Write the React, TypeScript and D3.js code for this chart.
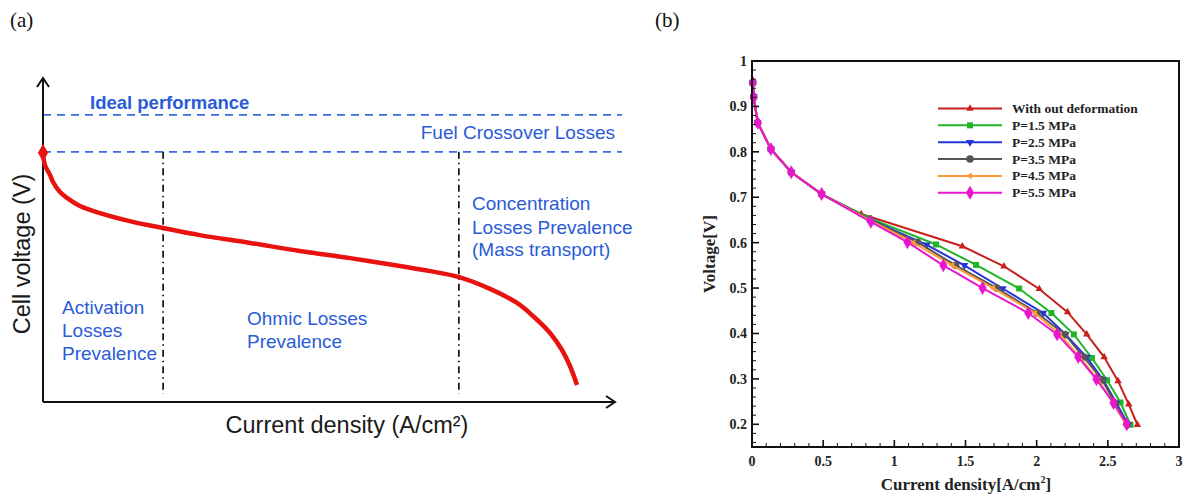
import * as d3 from "d3";

// ---------- panel (a): schematic polarization curve (arbitrary units 0..100) ----------
const schemCurrent = [0, 0.35, 1.22, 1.75, 2.97, 4.2, 6.47, 9.97, 15.7, 21.0, 27.4, 36.2, 44.9, 53.7, 62.4, 67.7, 72.6, 78.15, 82.87, 85.66, 88.64, 90.73, 92.13, 93.36];
const schemVoltage = [76.9, 73.1, 70.1, 67.9, 64.8, 63.0, 60.5, 58.3, 55.6, 53.7, 51.5, 49.1, 46.6, 44.4, 42.0, 40.4, 38.6, 34.9, 30.56, 26.54, 21.3, 16.05, 11.11, 5.25];
const idealLevel = 88.6;
const crossoverLevel = 77.2;
const regionBounds = [21.0, 72.7];
const levelEnd = 101.2;

// ---------- panel (b): measured polarization curves ----------
const sharedCurrent = [0.005, 0.012, 0.04, 0.133, 0.276, 0.489];
const sharedVoltage = [0.952, 0.921, 0.864, 0.806, 0.755, 0.707];

const seriesNames = ["With out deformation", "P=1.5 MPa", "P=2.5 MPa", "P=3.5 MPa", "P=4.5 MPa", "P=5.5 MPa"];
const seriesColors = ["#c8201c", "#1fb526", "#2435d8", "#565656", "#ff9a3a", "#ea16cf"];

const currentNoDeform = [0.767, 1.478, 1.77, 2.018, 2.217, 2.352, 2.474, 2.572, 2.647, 2.708];
const voltageNoDeform = [0.663, 0.592, 0.548, 0.498, 0.447, 0.398, 0.348, 0.295, 0.244, 0.199];
const currentP15 = [0.823, 1.293, 1.574, 1.877, 2.104, 2.261, 2.388, 2.495, 2.589, 2.659];
const voltageP15 = [0.654, 0.596, 0.551, 0.499, 0.445, 0.398, 0.346, 0.297, 0.248, 0.199];
const currentP25 = [0.82, 1.228, 1.492, 1.761, 2.046, 2.203, 2.35, 2.467, 2.56, 2.642];
const voltageP25 = [0.652, 0.595, 0.55, 0.499, 0.445, 0.398, 0.348, 0.298, 0.247, 0.2];
const currentP35 = [0.83, 1.162, 1.431, 1.719, 2.003, 2.198, 2.331, 2.46, 2.549, 2.635];
const voltageP35 = [0.65, 0.601, 0.55, 0.5, 0.445, 0.398, 0.348, 0.298, 0.247, 0.2];
const currentP45 = [0.83, 1.134, 1.407, 1.695, 1.988, 2.163, 2.303, 2.432, 2.537, 2.626];
const voltageP45 = [0.649, 0.6, 0.55, 0.5, 0.445, 0.398, 0.348, 0.298, 0.247, 0.2];
const currentP55 = [0.835, 1.092, 1.344, 1.62, 1.941, 2.144, 2.292, 2.42, 2.54, 2.633];
const voltageP55 = [0.646, 0.601, 0.55, 0.5, 0.445, 0.398, 0.348, 0.299, 0.247, 0.2];

const seriesCurrent = [currentNoDeform, currentP15, currentP25, currentP35, currentP45, currentP55];
const seriesVoltage = [voltageNoDeform, voltageP15, voltageP25, voltageP35, voltageP45, voltageP55];

const xTickLabels = ["0", "0.5", "1", "1.5", "2", "2.5", "3"];
const yTickLabels = ["0.2", "0.3", "0.4", "0.5", "0.6", "0.7", "0.8", "0.9", "1"];

const BLUE_TEXT = "#2a5bd7";
const BLUE_DASH = "#3a6be0";
const SANS = "'Liberation Sans', Arial, sans-serif";
const SERIF = "'Liberation Serif', 'Times New Roman', serif";

const symbolFor = [
  { type: d3.symbolTriangle, size: 24, rotate: 0 },
  { type: d3.symbolSquare, size: 36, rotate: 0 },
  { type: d3.symbolTriangle, size: 28, rotate: 180 },
  { type: d3.symbolCircle, size: 44, rotate: 0 },
  { type: d3.symbolTriangle, size: 20, rotate: -90 },
  { type: d3.symbolDiamond, size: 56, rotate: 0 },
];

function PanelA() {
  const x = d3.scaleLinear().domain([0, 100]).range([43, 615]);
  const y = d3.scaleLinear().domain([0, 100]).range([402, 78]);
  const pts = schemCurrent.map((c, i) => [c, schemVoltage[i]] as [number, number]);
  const line = d3
    .line<[number, number]>()
    .x((d) => x(d[0]))
    .y((d) => y(d[1]))
    .curve(d3.curveCatmullRom.alpha(0.5));

  const blueText = { fill: BLUE_TEXT, fontFamily: SANS, fontSize: 19 };

  return (
    <g>
      <text x={10} y={27} fontFamily={SERIF} fontSize={21} fill="#111">(a)</text>

      {/* level lines */}
      {[idealLevel, crossoverLevel].map((lv) => (
        <line key={lv} x1={x(0)} x2={x(levelEnd)} y1={y(lv)} y2={y(lv)}
          stroke={BLUE_DASH} strokeWidth={1.8} strokeDasharray="8,6" />
      ))}

      {/* region boundaries */}
      {regionBounds.map((b) => (
        <line key={b} x1={x(b)} x2={x(b)} y1={y(crossoverLevel)} y2={y(2.5)}
          stroke="#111" strokeWidth={1.7} strokeDasharray="7,4,1.5,4" />
      ))}

      {/* axes with open arrow heads */}
      <line x1={x(0)} x2={x(0)} y1={y(0)} y2={y(100)} stroke="#111" strokeWidth={2} />
      <line x1={x(0)} x2={x(100)} y1={y(0)} y2={y(0)} stroke="#111" strokeWidth={2} />
      <path d={`M${x(0) - 6},${y(100) + 9} L${x(0)},${y(100)} L${x(0) + 6},${y(100) + 9}`}
        fill="none" stroke="#111" strokeWidth={2} />
      <path d={`M${x(100) - 9},${y(0) - 6} L${x(100)},${y(0)} L${x(100) - 9},${y(0) + 6}`}
        fill="none" stroke="#111" strokeWidth={2} />

      {/* polarization curve */}
      <path d={line(pts) ?? ""} fill="none" stroke="#e8120e" strokeWidth={4.5} strokeLinecap="butt" />
      <path d={d3.symbol().type(d3.symbolDiamond).size(90)() ?? ""}
        transform={`translate(${x(pts[0][0])},${y(pts[0][1])})`} fill="#e8120e" />

      {/* annotations */}
      <text x={90} y={109} {...blueText} fontWeight="bold" fontSize={18.5}>Ideal performance</text>
      <text x={615} y={139} {...blueText} textAnchor="end">Fuel Crossover Losses</text>
      <text x={472} y={210} {...blueText}>Concentration</text>
      <text x={472} y={234} {...blueText}>Losses Prevalence</text>
      <text x={472} y={256} {...blueText}>(Mass transport)</text>
      <text x={62} y={314} {...blueText}>Activation</text>
      <text x={62} y={337} {...blueText}>Losses</text>
      <text x={62} y={360} {...blueText}>Prevalence</text>
      <text x={247} y={325} {...blueText}>Ohmic Losses</text>
      <text x={247} y={348} {...blueText}>Prevalence</text>

      <text x={347} y={433} textAnchor="middle" fontFamily={SANS} fontSize={23.5} fill="#1a1a1a">
        Current density (A/cm²)
      </text>
      <text transform={`translate(30,254) rotate(-90)`} textAnchor="middle" fontFamily={SANS}
        fontSize={23.5} fill="#1a1a1a">
        Cell voltage (V)
      </text>
    </g>
  );
}

function PanelB() {
  const left = 752, right = 1179, top = 61, bottom = 447;
  const x = d3.scaleLinear().domain([0, 3]).range([left, right]);
  const y = d3.scaleLinear().domain([0.15, 1]).range([bottom, top]);

  const line = d3
    .line<[number, number]>()
    .x((d) => x(d[0]))
    .y((d) => y(d[1]));

  const xMajor = xTickLabels.map(Number);
  const xMinor = d3.range(1, 30).map((i) => i / 10).filter((v) => Math.abs(v * 2 - Math.round(v * 2)) > 1e-6);
  const yMajor = yTickLabels.map(Number);
  const yMinor = d3.range(8, 50).map((i) => i / 50).filter((v) => Math.abs(v * 10 - Math.round(v * 10)) > 1e-6);

  const legendY0 = 108.5;
  const legendStep = 16.85;

  return (
    <g>
      <text x={655} y={27} fontFamily={SERIF} fontSize={21} fill="#111">(b)</text>

      {/* series */}
      {seriesNames.map((name, si) => {
        const pts = sharedCurrent
          .map((c, i) => [c, sharedVoltage[i]] as [number, number])
          .concat(seriesCurrent[si].map((c, i) => [c, seriesVoltage[si][i]] as [number, number]));
        const sym = symbolFor[si];
        const symPath = d3.symbol().type(sym.type).size(sym.size)() ?? "";
        return (
          <g key={name}>
            <path d={line(pts) ?? ""} fill="none" stroke={seriesColors[si]} strokeWidth={2} />
            {pts.map((p, i) => (
              <path key={i} d={symPath} fill={seriesColors[si]}
                transform={`translate(${x(p[0])},${y(p[1])}) rotate(${sym.rotate})`} />
            ))}
          </g>
        );
      })}

      {/* frame */}
      <rect x={left} y={top} width={right - left} height={bottom - top} fill="none" stroke="#111" strokeWidth={2} />

      {/* ticks */}
      {xMajor.map((v) => (
        <line key={`xM${v}`} x1={x(v)} x2={x(v)} y1={bottom} y2={bottom - 7} stroke="#111" strokeWidth={1.6} />
      ))}
      {xMinor.map((v) => (
        <line key={`xm${v}`} x1={x(v)} x2={x(v)} y1={bottom} y2={bottom - 4} stroke="#111" strokeWidth={1} />
      ))}
      {yMajor.map((v) => (
        <line key={`yM${v}`} x1={left} x2={left + 7} y1={y(v)} y2={y(v)} stroke="#111" strokeWidth={1.6} />
      ))}
      {yMinor.map((v) => (
        <line key={`ym${v}`} x1={left} x2={left + 4} y1={y(v)} y2={y(v)} stroke="#111" strokeWidth={1} />
      ))}

      {xTickLabels.map((t) => (
        <text key={`xl${t}`} x={x(Number(t))} y={466} textAnchor="middle" fontFamily={SERIF}
          fontWeight="bold" fontSize={14} fill="#222">{t}</text>
      ))}
      {yTickLabels.map((t) => (
        <text key={`yl${t}`} x={747} y={y(Number(t)) + 5} textAnchor="end" fontFamily={SERIF}
          fontWeight="bold" fontSize={14} fill="#222">{t}</text>
      ))}

      {/* axis titles */}
      <text x={966} y={490} textAnchor="middle" fontFamily={SERIF} fontWeight="bold" fontSize={17} fill="#222">
        Current density[A/cm<tspan fontSize={10} dy={-7}>2</tspan><tspan dy={7}>]</tspan>
      </text>
      <text transform={`translate(715,254) rotate(-90)`} textAnchor="middle" fontFamily={SERIF}
        fontWeight="bold" fontSize={17} fill="#222">
        Voltage[V]
      </text>

      {/* legend */}
      {seriesNames.map((name, si) => {
        const ly = legendY0 + si * legendStep;
        const sym = symbolFor[si];
        return (
          <g key={`lg${name}`}>
            <line x1={938} x2={1002} y1={ly} y2={ly} stroke={seriesColors[si]} strokeWidth={2} />
            <path d={d3.symbol().type(sym.type).size(sym.size)() ?? ""} fill={seriesColors[si]}
              transform={`translate(970,${ly}) rotate(${sym.rotate})`} />
            <text x={1012} y={ly + 4.5} fontFamily={SERIF} fontWeight="bold" fontSize={13.5} fill="#222">
              {name}
            </text>
          </g>
        );
      })}
    </g>
  );
}

export default function App() {
  return (
    <svg width={1184} height={495} viewBox="0 0 1184 495"
      style={{ position: "absolute", left: 0, top: 0, background: "#fff" }}>
      <rect width={1184} height={495} fill="#fff" />
      <PanelA />
      <PanelB />
    </svg>
  );
}
